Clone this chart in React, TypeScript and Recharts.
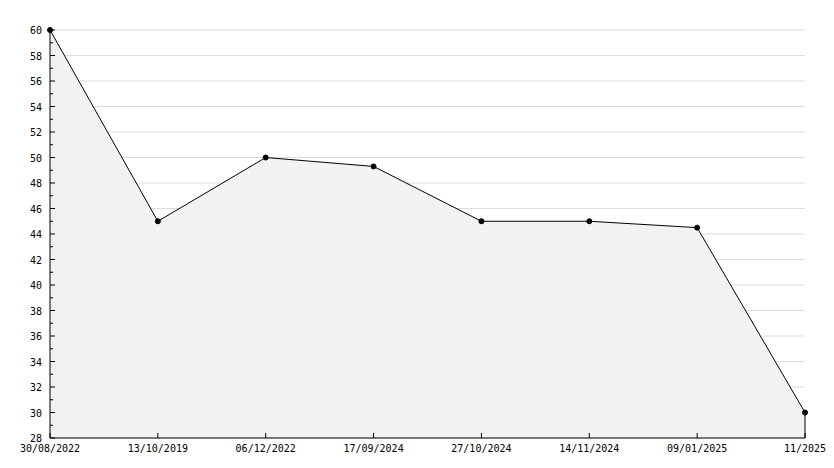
import { Area, AreaChart, CartesianGrid, ReferenceLine, XAxis, YAxis } from 'recharts'

const dates = ['30/08/2022', '13/10/2019', '06/12/2022', '17/09/2024', '27/10/2024', '14/11/2024', '09/01/2025', '11/2025']
const values = [60, 45, 50, 49.3, 45, 45, 44.5, 30]
const yTicks = [28, 29, 30, 31, 32, 33, 34, 35, 36, 37, 38, 39, 40, 41, 42, 43, 44, 45, 46, 47, 48, 49, 50, 51, 52, 53, 54, 55, 56, 57, 58, 59, 60]
const yLabels = [28, 30, 32, 34, 36, 38, 40, 42, 44, 46, 48, 50, 52, 54, 56, 58, 60]

const data = dates.map((d, i) => ({ date: d, value: values[i] }))

const font = '"DejaVu Sans Mono", monospace'

function YTick(props: any) {
  const { x, y, payload } = props
  const major = yLabels.includes(payload.value)
  const ax = x + 8
  return (
    <g>
      <line x1={ax} x2={ax + (major ? 5 : 3)} y1={y} y2={y} stroke="#000" />
      {major && (
        <text x={x} y={y} dy={4} textAnchor="end" fontFamily={font} fontSize={10} fill="#000">
          {payload.value}
        </text>
      )}
    </g>
  )
}

function XTick(props: any) {
  const { x, y, payload } = props
  const ay = y - 6
  return (
    <g>
      <line x1={x} x2={x} y1={ay} y2={ay - 5} stroke="#000" />
      <text x={x} y={y} dy={8} textAnchor="middle" fontFamily={font} fontSize={10} fill="#000">
        {payload.value}
      </text>
    </g>
  )
}

const last = data[data.length - 1]

export default function App() {
  return (
    <div style={{ position: 'absolute', left: 0, top: 0, background: '#fff' }}>
      <AreaChart width={834} height={468} data={data} margin={{ top: 30, right: 29, bottom: 0, left: 0 }}>
        <CartesianGrid vertical={false} horizontalValues={yLabels} stroke="#dcdcdc" />
        <XAxis
          dataKey="date"
          padding={{ left: 0, right: 0 }}
          interval={0}
          height={30}
          tickSize={0}
          tickMargin={6}
          tick={<XTick />}
          axisLine={{ stroke: '#000' }}
        />
        <YAxis
          domain={[28, 60]}
          ticks={yTicks}
          interval={0}
          width={50}
          tickSize={0}
          tickMargin={8}
          tick={<YTick />}
          axisLine={{ stroke: '#000' }}
        />
        <Area
          type="linear"
          dataKey="value"
          stroke="#000"
          strokeWidth={1}
          fill="#f2f2f2"
          fillOpacity={1}
          baseValue={28}
          dot={{ r: 2.5, fill: '#000', stroke: '#000', strokeWidth: 1 }}
          activeDot={false}
          isAnimationActive={false}
        />
        <ReferenceLine
          segment={[{ x: last.date, y: 28 }, { x: last.date, y: last.value }]}
          stroke="#000"
        />
      </AreaChart>
    </div>
  )
}
